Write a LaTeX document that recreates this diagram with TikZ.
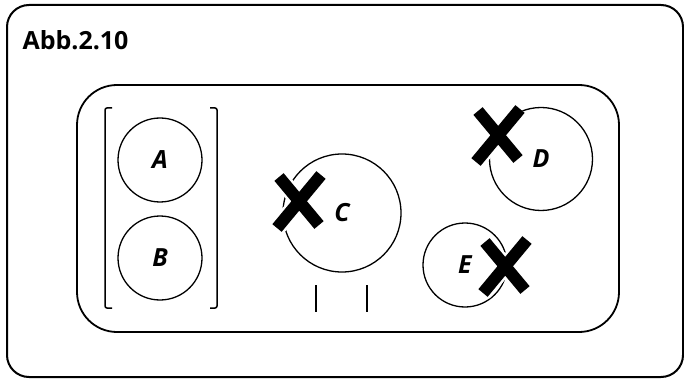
\documentclass[tikz,border=0pt]{standalone}
\usepackage{fontspec}
\setmainfont{Open Sans}
\newcommand{\kreuz}[1]{%
  \begin{scope}[shift={#1}]
    \draw[white,line width=17pt] (-20,-24) -- (20,24) (22,-26) -- (-22,27);
    \draw[line width=12pt] (-20,-24) -- (20,24) (22,-26) -- (-22,27);
  \end{scope}}

\begin{document}
\begin{tikzpicture}[x=1pt,y=-1pt,
    platte/.style={circle,draw,line width=1.3pt,inner sep=0pt,
      font=\fontsize{25}{25}\selectfont\bfseries\itshape}]
      \useasboundingbox (0,0) rectangle (684,379);
      \draw[line width=2pt,rounded corners=22pt] (7,5) rectangle (683,377);
      \node[anchor=base west,font=\fontsize{25}{25}\selectfont\bfseries] (titel) at (19,50) {Abb.2.10};
      \draw[line width=1.8pt,rounded corners=40pt] (77,85) rectangle (619,332);
      % Klammern um A und B
      \draw[line width=1.5pt,rounded corners=2pt] (112,108) -- (105,108) -- (105,308) -- (112,308);
      \draw[line width=1.5pt,rounded corners=2pt] (210,108) -- (217,108) -- (217,308) -- (210,308);
      \node[platte,minimum size=84pt] (A) at (160,160) {A};
      \node[platte,minimum size=84pt] (B) at (160,258) {B};
      \node[platte,minimum size=118pt] (C) at (342,213) {C};
      \node[platte,minimum size=103pt] (D) at (541,159) {D};
      \node[platte,minimum size=84pt] (E) at (465,265) {E};
      \kreuz{(299,201)}
      \kreuz{(498,135)}
      \kreuz{(505,266)}
      \draw[line width=1.5pt] (316,285) -- (316,312);
      \draw[line width=1.5pt] (367,285) -- (367,312);
     \end{tikzpicture}
\end{document}
